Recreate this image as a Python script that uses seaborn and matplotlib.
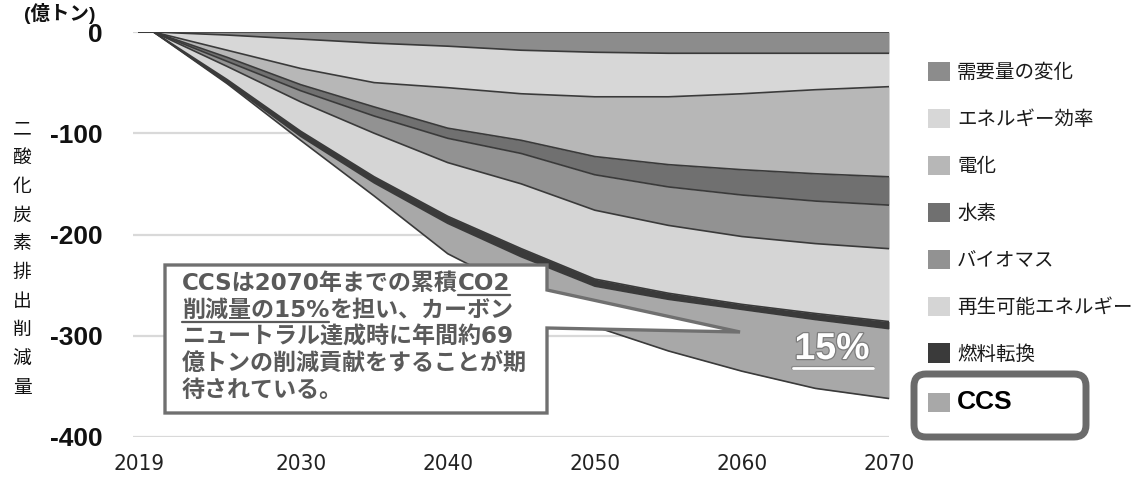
import numpy as np
import pandas as pd
import matplotlib
matplotlib.use("Agg")
import matplotlib.pyplot as plt
import matplotlib.patheffects as pe
from matplotlib.patches import Polygon, FancyBboxPatch, Patch
from matplotlib.lines import Line2D
from matplotlib.transforms import IdentityTransform
import seaborn as sns

# ---- data (億トン, reductions are negative) ----
years = [2019, 2020, 2025, 2030, 2035, 2040, 2045, 2050, 2055, 2060, 2065, 2070]
series_names = ["需要量の変化", "エネルギー効率", "電化", "水素", "バイオマス",
                "再生可能エネルギー", "燃料転換", "CCS"]
demand = [0, 0, -3, -7, -11, -14, -18, -20, -21, -21, -21, -21]
efficiency = [0, 0, -15, -29, -39, -41, -43, -44, -43, -40, -36, -33]
electrification = [0, 0, -7, -16, -24, -40, -46, -59, -67, -75, -83, -89]
hydrogen = [0, 0, -4, -6, -9, -10, -13, -18, -22, -25, -27, -28]
biomass = [0, 0, -5, -11, -17, -24, -30, -35, -38, -41, -42, -43]
renewables = [0, 0, -13, -29, -43, -53, -64, -68, -67, -67, -69, -72]
fuel_switch = [0, 0, -3, -5, -6, -7, -8, -7, -6, -5, -6, -7]
ccs = [0, 0, -1, -4, -13, -30, -34, -40, -51, -61, -68, -69]

series_colors = ["#8c8c8c", "#d7d7d7", "#b7b7b7", "#707070", "#929292",
                 "#d5d5d5", "#3a3a3a", "#a8a8a8"]
x_ticks = [2019, 2030, 2040, 2050, 2060, 2070]
y_ticks = [0, -100, -200, -300, -400]

sns.set_theme(style="white")
plt.rcParams["font.family"] = ["Liberation Sans", "Noto Sans CJK JP", "DejaVu Sans"]

W, H = 1137, 479
fig = plt.figure(figsize=(W / 100, H / 100), dpi=100)


def fx(px):
    return px / W


def fy(py):
    return 1 - py / H


ax = fig.add_axes([fx(133), fy(437), fx(889) - fx(133), fy(32) - fy(437)])

# stacked areas
values = np.array([demand, efficiency, electrification, hydrogen, biomass,
                   renewables, fuel_switch, ccs], dtype=float)
cum = np.vstack([np.zeros(len(years)), np.cumsum(values, axis=0)])
for i, c in enumerate(series_colors):
    ax.fill_between(years, cum[i], cum[i + 1], color=c, lw=0, zorder=2)

# layer boundaries drawn with seaborn
edges = pd.DataFrame({
    "年": np.tile(years, cum.shape[0]),
    "累積": cum.ravel(),
    "境界": np.repeat(np.arange(cum.shape[0]), len(years)),
})
sns.lineplot(data=edges, x="年", y="累積", units="境界", estimator=None,
             color="#3a3a3a", lw=1.2, ax=ax, legend=False, zorder=3)

ax.set_xlim(2018.6, 2070)
ax.set_ylim(-400, 0)
ax.set_xticks(x_ticks)
ax.set_xticklabels([str(v) for v in x_ticks], fontfamily=["DejaVu Sans"],
                   fontstretch="condensed", fontsize=16, color="#222222")
ax.set_yticks(y_ticks)
ax.set_yticklabels([str(v) for v in y_ticks], fontsize=19,
                   fontweight="bold", color="#111111")
ax.tick_params(axis="x", length=0, pad=12)
ax.tick_params(axis="y", length=0, pad=22)
ax.set_xlabel("")
ax.set_ylabel("")
ax.grid(axis="y", color="#d9d9d9", lw=1.6, zorder=0)
ax.grid(axis="x", visible=False)
ax.set_axisbelow(True)
for s in ax.spines.values():
    s.set_visible(False)

# unit and axis title
fig.text(fx(60), fy(13), "(億トン)", ha="center", va="center", fontsize=14,
         fontweight="bold", color="#111111")
fig.text(fx(22), fy(258), "\n".join("二酸化炭素排出削減量"), ha="center",
         va="center", fontsize=13.5, linespacing=1.48, color="#111111",
         fontfamily=["Noto Sans CJK JP"])

# callout bubble
bubble_px = [(165, 265), (547, 265), (547, 290), (740, 332), (547, 328),
             (547, 413), (165, 413)]
bubble = Polygon([(fx(x), fy(y)) for x, y in bubble_px], closed=True,
                 transform=fig.transFigure, facecolor="white",
                 edgecolor="#707070", lw=2.4, zorder=5)
fig.add_artist(bubble)

txt_kw = dict(fontsize=16.6, fontweight="bold", color="#5a5a5a", va="center",
              ha="left", zorder=6, fontfamily=["DejaVu Sans", "Noto Sans CJK JP"])
lines = [
    ("CCSは2070年までの累積", "CO2", ""),
    ("", "削減量の15%", "を担い、カーボン"),
    ("ニュートラル達成時に年間約69", "", ""),
    ("億トンの削減貢献をすることが期", "", ""),
    ("待されている。", "", ""),
]
line_y = [283, 310, 337, 364, 390]
renderer = fig.canvas.get_renderer()
for (pre, under, post), ly in zip(lines, line_y):
    x_cur = fx(182)
    for part, is_under in ((pre, False), (under, True), (post, False)):
        if not part:
            continue
        t = fig.text(x_cur, fy(ly), part, **txt_kw)
        bb = t.get_window_extent(renderer)
        if is_under:
            uy = fy(ly + 12)
            fig.add_artist(Line2D([bb.x0 / W, bb.x1 / W], [uy, uy],
                                  transform=fig.transFigure, color="#5a5a5a",
                                  lw=1.6, zorder=6))
        x_cur = bb.x1 / W

# share label on the CCS band
fig.text(fx(832), fy(349), "15%", ha="center", va="center", fontsize=27,
         fontweight="bold", color="white", zorder=6,
         path_effects=[pe.withStroke(linewidth=1.8, foreground="#7d7d7d")])
fig.add_artist(Line2D([fx(793), fx(873)], [fy(368), fy(368)],
                      transform=fig.transFigure, color="white", lw=2, zorder=6,
                      path_effects=[pe.withStroke(linewidth=3, foreground="#8a8a8a")]))

# legend
handles = [Patch(facecolor=c, edgecolor="none") for c in series_colors]
leg = fig.legend(handles, series_names, loc="upper left",
                 bbox_to_anchor=(fx(928), fy(62)), frameon=False, fontsize=14,
                 handlelength=1.15, handleheight=1.15, handletextpad=0.35,
                 labelspacing=1.32, borderpad=0, borderaxespad=0)
for t in leg.get_texts():
    t.set_color("#1a1a1a")
    t.set_fontfamily(["Noto Sans CJK JP"])
ccs_txt = leg.get_texts()[-1]
ccs_txt.set_fontfamily(["Liberation Sans"])
ccs_txt.set_fontsize(19)
ccs_txt.set_fontweight("bold")
ccs_txt.set_color("black")

# highlight frame around the CCS entry
frame = FancyBboxPatch((914, H - 437), 172, 63,
                       boxstyle="round,pad=0,rounding_size=12",
                       transform=IdentityTransform(), facecolor="white",
                       edgecolor="#6b6b6b", lw=5, zorder=1)
fig.add_artist(frame)

fig.savefig("out.png", dpi=100)
